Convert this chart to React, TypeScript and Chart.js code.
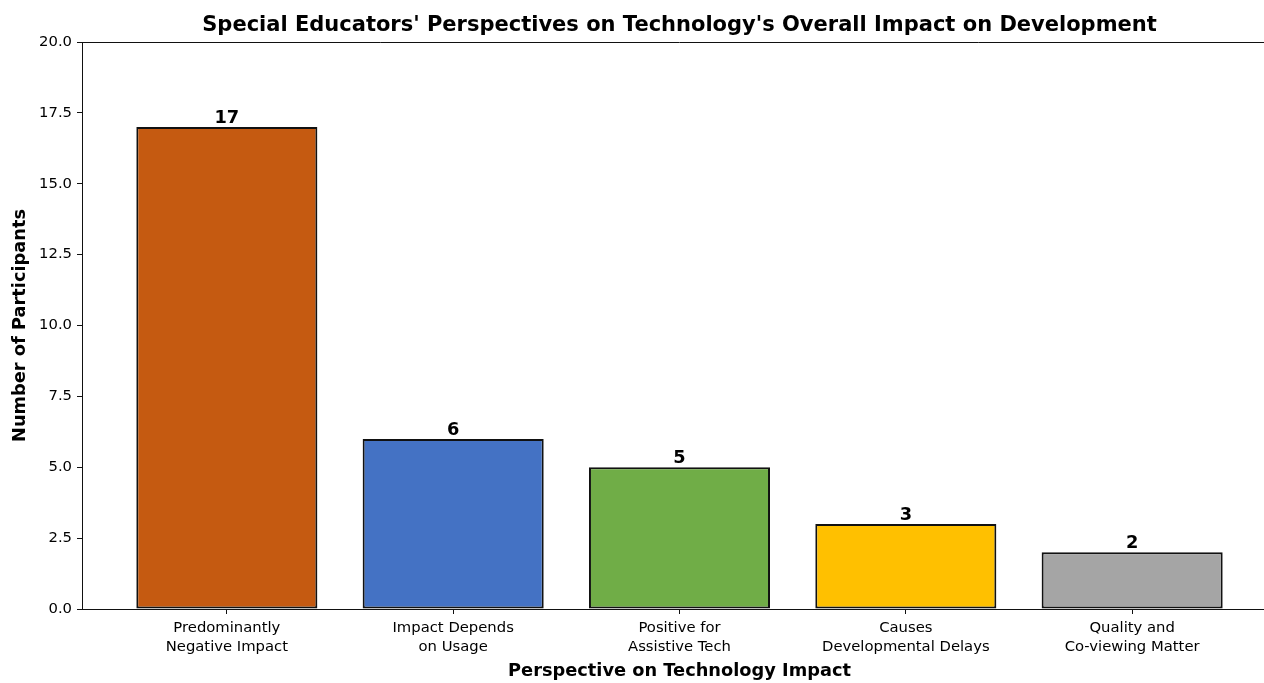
import React, { useEffect, useRef } from 'react';
import { Chart, registerables } from 'chart.js';

Chart.register(...registerables);

const titleText = "Special Educators' Perspectives on Technology's Overall Impact on Development";
const xTitle = 'Perspective on Technology Impact';
const yTitle = 'Number of Participants';
const categories: string[][] = [
  ['Predominantly', 'Negative Impact'],
  ['Impact Depends', 'on Usage'],
  ['Positive for', 'Assistive Tech'],
  ['Causes', 'Developmental Delays'],
  ['Quality and', 'Co-viewing Matter'],
];
const values = [17, 6, 5, 3, 2];
const barColors = ['#C55A11', '#4472C4', '#70AD47', '#FFC000', '#A5A5A5'];
const yMin = 0;
const yMax = 20;
const yStep = 2.5;

const FONT = "'DejaVu Sans', sans-serif";
const W = 1277;
const H = 683;

const framePlugin = {
  id: 'frameAndLabels',
  afterDatasetsDraw(chart: any) {
    const { ctx, chartArea } = chart;
    ctx.save();
    ctx.strokeStyle = '#111';
    ctx.lineWidth = 1;
    ctx.beginPath();
    ctx.moveTo(chartArea.left, Math.round(chartArea.top) + 0.5);
    ctx.lineTo(chartArea.right, Math.round(chartArea.top) + 0.5);
    ctx.stroke();
    const meta = chart.getDatasetMeta(0);
    ctx.fillStyle = '#000';
    ctx.font = `bold 17.8px ${FONT}`;
    ctx.textAlign = 'center';
    ctx.textBaseline = 'alphabetic';
    meta.data.forEach((bar: any, i: number) => {
      ctx.fillText(String(values[i]), bar.x, bar.y - 4);
    });
    ctx.restore();
  },
};

export default function App() {
  const ref = useRef<HTMLCanvasElement>(null);
  useEffect(() => {
    if (!ref.current) return;
    const chart = new Chart(ref.current, {
      type: 'bar',
      data: {
        datasets: [
          {
            data: values.map((v, i) => ({ x: i, y: v })),
            backgroundColor: barColors,
            borderColor: '#111',
            borderWidth: 2,
            borderSkipped: false,
            categoryPercentage: 1,
            barPercentage: 0.8,
          },
        ],
      },
      options: {
        responsive: false,
        animation: false,
        devicePixelRatio: 1,
        layout: { padding: 0 },
        plugins: {
          legend: { display: false },
          tooltip: { enabled: false },
          title: {
            display: true,
            text: titleText,
            fullSize: false,
            color: '#000',
            font: { family: FONT, size: 21, weight: 'bold', lineHeight: 1.2 },
            padding: { top: 13, bottom: 3.8 },
          },
        },
        scales: {
          x: {
            type: 'linear',
            min: -0.64,
            max: 4.64,
            offset: false,
            afterBuildTicks: (scale: any) => {
              scale.ticks = categories.map((_, i) => ({ value: i }));
            },
            afterFit: (scale: any) => {
              scale.height = 74;
            },
            grid: {
              display: true,
              drawOnChartArea: false,
              drawTicks: true,
              tickLength: 5,
              tickColor: '#111',
              offset: false,
            },
            border: { display: true, color: '#111', width: 1 },
            ticks: {
              autoSkip: false,
              maxRotation: 0,
              minRotation: 0,
              padding: 4.5,
              color: '#000',
              font: { family: FONT, size: 14.8, lineHeight: 1.28 },
              callback: (v: any) => categories[Number(v)] ?? '',
            },
            title: {
              display: true,
              text: xTitle,
              color: '#000',
              font: { family: FONT, size: 17.8, weight: 'bold', lineHeight: 1.2 },
              padding: { top: 0, bottom: 1 },
            },
          },
          y: {
            min: yMin,
            max: yMax,
            afterFit: (scale: any) => {
              scale.width = 82;
            },
            grid: {
              display: true,
              drawOnChartArea: false,
              drawTicks: true,
              tickLength: 5,
              tickColor: '#111',
            },
            border: { display: true, color: '#111', width: 1 },
            ticks: {
              stepSize: yStep,
              padding: 5,
              color: '#000',
              font: { family: FONT, size: 14.8 },
              callback: (v: any) => Number(v).toFixed(1),
            },
            title: {
              display: true,
              text: yTitle,
              color: '#000',
              font: { family: FONT, size: 17.8, weight: 'bold', lineHeight: 1.2 },
              padding: { top: 9.3, bottom: 0 },
            },
          },
        },
      },
      plugins: [framePlugin],
    });
    return () => chart.destroy();
  }, []);
  return (
    <div style={{ position: 'absolute', left: 0, top: 0, width: 1264, height: H, overflow: 'hidden', background: '#fff' }}>
      <canvas ref={ref} width={W} height={H} style={{ width: W, height: H, display: 'block' }} />
    </div>
  );
}
